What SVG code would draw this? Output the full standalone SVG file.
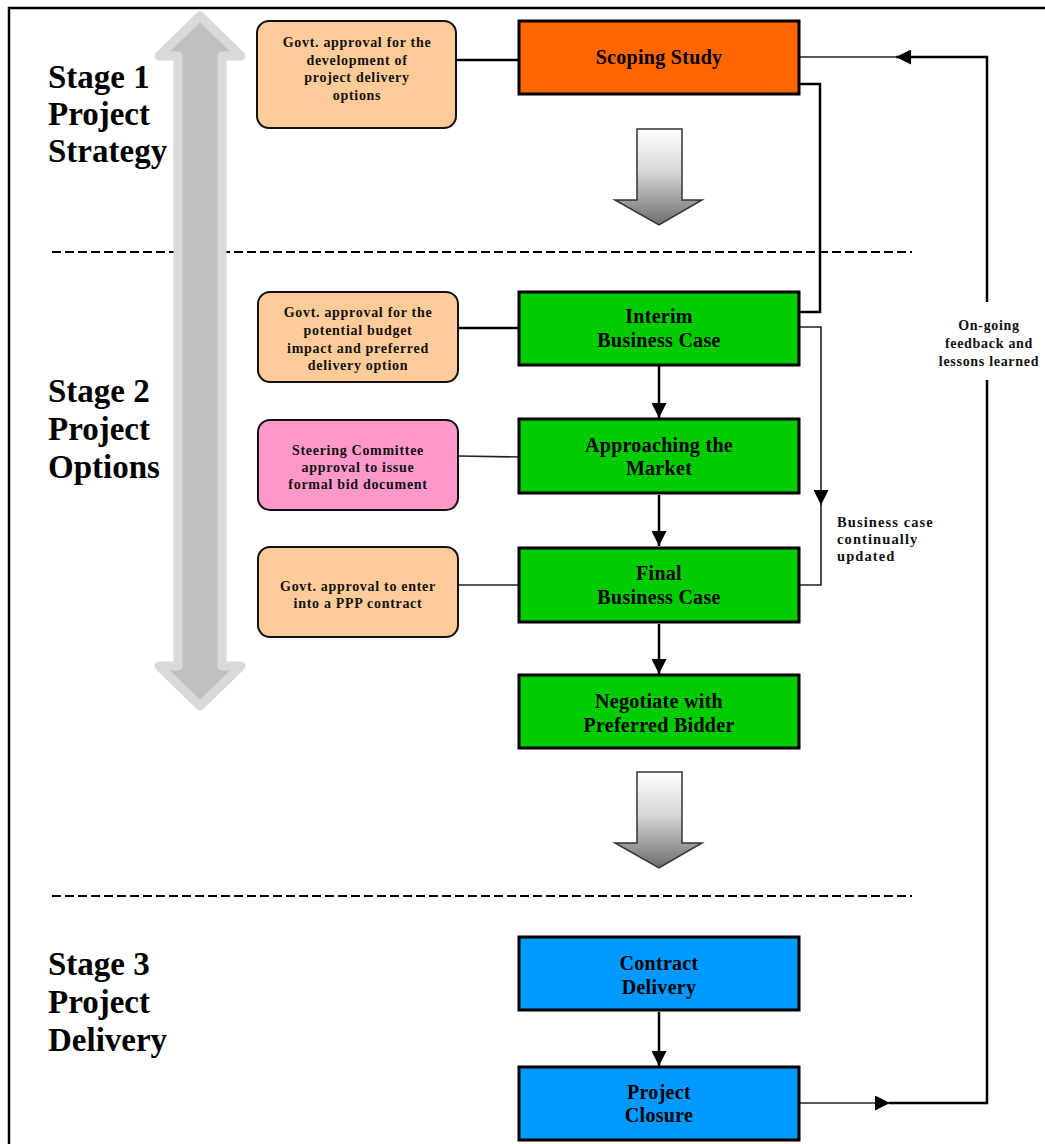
<svg xmlns="http://www.w3.org/2000/svg" width="1045" height="1144" viewBox="0 0 1045 1144">
  <style>
    .stage { font-family: "Liberation Serif", "Times New Roman", serif; font-weight: bold; font-size: 33px; fill: #000; }
    .main { font-family: "Liberation Serif", "Times New Roman", serif; font-weight: bold; font-size: 20px; letter-spacing: 0.3px; fill: #000; text-anchor: middle; }
    .note { font-family: "Liberation Serif", "Times New Roman", serif; font-weight: bold; font-size: 14px; letter-spacing: 0.7px; fill: #111; text-anchor: middle; }
    .side { font-family: "Liberation Serif", "Times New Roman", serif; font-weight: bold; font-size: 14.5px; letter-spacing: 1.1px; fill: #111; }
    .box { stroke: #000; stroke-width: 3; }
    .approval { stroke: #111; stroke-width: 2; }
    .link { fill: none; stroke: #000; stroke-width: 2.5; }
    .thin { fill: none; stroke: #222; stroke-width: 1.6; }
    .divider { fill: none; stroke: #000; stroke-width: 2; stroke-dasharray: 9 4; }
  </style>
  <defs>
    <marker id="head" markerUnits="userSpaceOnUse" viewBox="0 0 14 14" refX="14" refY="7" markerWidth="15" markerHeight="15" orient="auto">
      <path d="M0,0 L14,7 L0,14 z" fill="#000"/>
    </marker>
    <linearGradient id="fatFill" x1="0" y1="0" x2="0" y2="1">
      <stop offset="0" stop-color="#ffffff"/>
      <stop offset="0.45" stop-color="#d6d6d6"/>
      <stop offset="1" stop-color="#6e6e6e"/>
    </linearGradient>
  </defs>

  <rect x="0" y="0" width="1045" height="1144" fill="#fff"/>
  <!-- page frame -->
  <path d="M9,1144 V8 H1045" fill="none" stroke="#000" stroke-width="2.5"/>

  <!-- stage dividers -->
  <line class="divider" x1="52" y1="252" x2="912" y2="252"/>
  <line class="divider" x1="52" y1="896" x2="912" y2="896"/>

  <!-- grey two-way progress arrow -->
  <polygon points="200,16 241,56 222,56 222,666 241,666 200,706 159,666 178,666 178,56 159,56"
           fill="#c0c0c0" stroke="#d9d9d9" stroke-width="9" stroke-linejoin="round"/>

  <!-- stage labels -->
  <g id="stage1">
    <text class="stage" x="48" y="88">Stage 1</text>
    <text class="stage" x="48" y="125">Project</text>
    <text class="stage" x="48" y="162">Strategy</text>
  </g>
  <g id="stage2">
    <text class="stage" x="48" y="402">Stage 2</text>
    <text class="stage" x="48" y="440">Project</text>
    <text class="stage" x="48" y="478">Options</text>
  </g>
  <g id="stage3">
    <text class="stage" x="48" y="975">Stage 3</text>
    <text class="stage" x="48" y="1013">Project</text>
    <text class="stage" x="48" y="1051">Delivery</text>
  </g>

  <!-- transition arrows between stages -->
  <polygon points="637,129 682,129 682,200 702,200 659,225 615,200 637,200" fill="url(#fatFill)" stroke="#333" stroke-width="1.5" stroke-linejoin="miter"/>
  <polygon points="637,772 682,772 682,843 702,843 659,868 615,843 637,843" fill="url(#fatFill)" stroke="#333" stroke-width="1.5" stroke-linejoin="miter"/>

  <!-- connectors -->
  <g id="connectors">
    <!-- approvals to steps -->
    <line class="link" x1="456" y1="60" x2="519" y2="60"/>
    <line class="link" x1="458" y1="328" x2="519" y2="328"/>
    <line class="thin" x1="458" y1="456" x2="519" y2="457"/>
    <line class="thin" x1="458" y1="585" x2="519" y2="585"/>
    <!-- step sequence -->
    <line class="link" x1="659" y1="366" x2="659" y2="418" marker-end="url(#head)"/>
    <line class="link" x1="659" y1="495" x2="659" y2="546" marker-end="url(#head)"/>
    <line class="link" x1="659" y1="624" x2="659" y2="674" marker-end="url(#head)"/>
    <line class="link" x1="659" y1="1012" x2="659" y2="1066" marker-end="url(#head)"/>
    <!-- scoping study feeds interim business case -->
    <path class="link" d="M799,84 H820 V312 H799"/>
    <!-- business case continually updated -->
    <path class="thin" d="M799,327 H821 V505" marker-end="url(#head)"/>
    <path class="thin" d="M821,503 V585 H799"/>
    <!-- feedback loop from closure back to scoping -->
    <line class="thin" x1="799" y1="1103" x2="890" y2="1103" marker-end="url(#head)"/>
    <path class="link" d="M889,1103 H987 V380"/>
    <path class="link" d="M987,302 V57 H896" marker-end="url(#head)"/>
    <line class="thin" x1="897" y1="57" x2="799" y2="57"/>
  </g>

  <!-- connector labels -->
  <g id="feedback-label">
    <text class="note" x="989" y="330">On-going</text>
    <text class="note" x="989" y="348">feedback and</text>
    <text class="note" x="989" y="366">lessons learned</text>
  </g>
  <g id="update-label">
    <text class="side" x="837" y="527">Business case</text>
    <text class="side" x="837" y="544">continually</text>
    <text class="side" x="837" y="561">updated</text>
  </g>

  <!-- approval notes -->
  <g id="approval-development">
    <rect class="approval" x="257" y="21" width="199" height="107" rx="12" fill="#ffcc99"/>
    <text class="note" x="357" y="47">Govt. approval for the</text>
    <text class="note" x="357" y="65">development of</text>
    <text class="note" x="357" y="82">project delivery</text>
    <text class="note" x="357" y="100">options</text>
  </g>
  <g id="approval-budget">
    <rect class="approval" x="258" y="292" width="200" height="90" rx="12" fill="#ffcc99"/>
    <text class="note" x="358" y="317">Govt. approval for the</text>
    <text class="note" x="358" y="335">potential budget</text>
    <text class="note" x="358" y="353">impact and preferred</text>
    <text class="note" x="358" y="370">delivery option</text>
  </g>
  <g id="approval-bid">
    <rect class="approval" x="258" y="420" width="200" height="90" rx="12" fill="#ff99cc"/>
    <text class="note" x="358" y="455">Steering Committee</text>
    <text class="note" x="358" y="472">approval to issue</text>
    <text class="note" x="358" y="489">formal bid document</text>
  </g>
  <g id="approval-contract">
    <rect class="approval" x="258" y="547" width="200" height="90" rx="12" fill="#ffcc99"/>
    <text class="note" x="358" y="591">Govt. approval to enter</text>
    <text class="note" x="358" y="608">into a PPP contract</text>
  </g>

  <!-- process steps -->
  <g id="scoping-study">
    <rect class="box" x="519" y="21" width="280" height="73" fill="#ff6600"/>
    <text class="main" x="659" y="64">Scoping Study</text>
  </g>
  <g id="interim-business-case">
    <rect class="box" x="519" y="292" width="280" height="73" fill="#00cc00"/>
    <text class="main" x="659" y="323">Interim</text>
    <text class="main" x="659" y="347">Business Case</text>
  </g>
  <g id="approaching-market">
    <rect class="box" x="519" y="419" width="280" height="74" fill="#00cc00"/>
    <text class="main" x="659" y="452">Approaching the</text>
    <text class="main" x="659" y="475">Market</text>
  </g>
  <g id="final-business-case">
    <rect class="box" x="519" y="548" width="280" height="74" fill="#00cc00"/>
    <text class="main" x="659" y="580">Final</text>
    <text class="main" x="659" y="604">Business Case</text>
  </g>
  <g id="negotiate">
    <rect class="box" x="519" y="675" width="280" height="73" fill="#00cc00"/>
    <text class="main" x="659" y="708">Negotiate with</text>
    <text class="main" x="659" y="732">Preferred Bidder</text>
  </g>
  <g id="contract-delivery">
    <rect class="box" x="519" y="937" width="280" height="73" fill="#0099ff"/>
    <text class="main" x="659" y="970">Contract</text>
    <text class="main" x="659" y="994">Delivery</text>
  </g>
  <g id="project-closure">
    <rect class="box" x="519" y="1067" width="280" height="73" fill="#0099ff"/>
    <text class="main" x="659" y="1099">Project</text>
    <text class="main" x="659" y="1122">Closure</text>
  </g>
</svg>
